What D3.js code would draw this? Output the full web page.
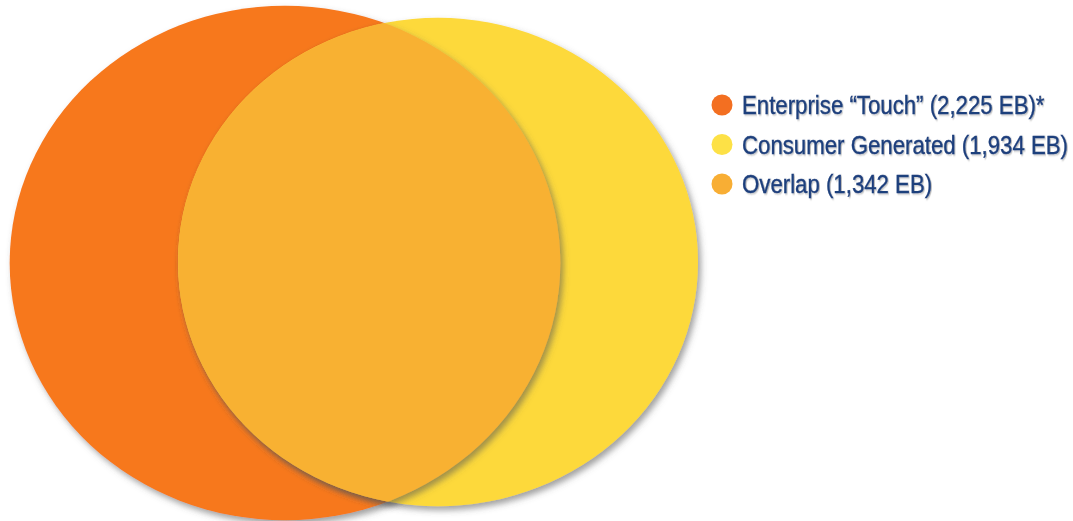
<!DOCTYPE html>
<html><head><meta charset="utf-8">
<script src="https://cdn.jsdelivr.net/npm/d3@7"></script>
<style>html,body{margin:0;padding:0;background:#fff;overflow:hidden}</style>
</head><body>
<svg id="chart" width="1073" height="521"></svg>
<script>
const categories = ["Enterprise \u201cTouch\u201d (2,225 EB)*", "Consumer Generated (1,934 EB)", "Overlap (1,342 EB)"];
const seriesKeys = ["enterprise", "consumer", "overlap"];
const values = [2225, 1934, 1342];
const colors = ["#f7781e", "#fdd93b", "#f8b133"];
const legendDotColors = ["#f36f21", "#fde146", "#f8ae34"];

const svg = d3.select("#chart");

const defs = svg.append("defs");
const f = defs.append("filter").attr("id", "shadow").attr("x", "-10%").attr("y", "-10%").attr("width", "125%").attr("height", "125%");
f.append("feGaussianBlur").attr("in", "SourceAlpha").attr("stdDeviation", 3).attr("result", "b");
f.append("feOffset").attr("in", "b").attr("dx", 3).attr("dy", 4).attr("result", "o");
f.append("feFlood").attr("flood-color", "#555").attr("flood-opacity", 0.55);
f.append("feComposite").attr("in2", "o").attr("operator", "in").attr("result", "s");
const m = f.append("feMerge"); m.append("feMergeNode").attr("in", "s"); m.append("feMergeNode").attr("in", "SourceGraphic");

const tf = defs.append("filter").attr("id", "tshadow");
tf.append("feGaussianBlur").attr("in", "SourceAlpha").attr("stdDeviation", 0.8).attr("result", "b");
tf.append("feOffset").attr("in", "b").attr("dx", 1).attr("dy", 1).attr("result", "o");
tf.append("feFlood").attr("flood-color", "#000").attr("flood-opacity", 0.3);
tf.append("feComposite").attr("in2", "o").attr("operator", "in").attr("result", "s");
const tm = tf.append("feMerge"); tm.append("feMergeNode").attr("in", "s"); tm.append("feMergeNode").attr("in", "SourceGraphic");

// radius scale (sqrt of value) with a slight horizontal stretch
const r = d3.scaleSqrt().domain([0, values[0]]).range([0, 266]);
const sx = 1.035, sy = 0.967;
const centers = [[285, 263], [438, 262]];
const circles = [0, 1].map(i => ({
  cx: centers[i][0], cy: centers[i][1],
  rx: r(values[i]) * sx * (i === 1 ? 1.013 : 1), ry: r(values[i]) * sy * (i === 1 ? 1.018 : 1),
  color: colors[i], key: seriesKeys[i]
}));

const g = svg.append("g");
defs.append("clipPath").attr("id", "clipA").append("ellipse")
  .attr("cx", circles[0].cx).attr("cy", circles[0].cy).attr("rx", circles[0].rx).attr("ry", circles[0].ry);

g.selectAll("ellipse.set").data(circles).join("ellipse")
  .attr("class", "set")
  .attr("cx", d => d.cx).attr("cy", d => d.cy)
  .attr("rx", d => d.rx).attr("ry", d => d.ry)
  .attr("fill", d => d.color)
  .attr("filter", "url(#shadow)");

g.append("g").attr("filter", "url(#shadow)")
  .append("ellipse")
  .attr("clip-path", "url(#clipA)")
  .attr("cx", circles[1].cx).attr("cy", circles[1].cy)
  .attr("rx", circles[1].rx).attr("ry", circles[1].ry)
  .attr("fill", colors[2]);

// legend
const ly = d3.scalePoint().domain(categories).range([105, 184]);
const leg = svg.append("g");
const items = leg.selectAll("g").data(categories).join("g")
  .attr("transform", d => `translate(0,${ly(d)})`);
items.append("circle").attr("cx", 722).attr("cy", 0).attr("r", 10.5)
  .attr("fill", (d, i) => legendDotColors[i]);
items.append("text").attr("transform", "translate(742,0) scale(0.855,1)")
  .attr("x", 0).attr("y", 0).attr("dy", "0.36em")
  .attr("font-family", "'Liberation Sans', Arial, sans-serif")
  .attr("font-size", 26).attr("fill", "#1e3f7c")
  .attr("stroke", "#1e3f7c").attr("stroke-width", 0.35)
  .attr("filter", "url(#tshadow)")
  .text(d => d);
</script>
</body></html>
